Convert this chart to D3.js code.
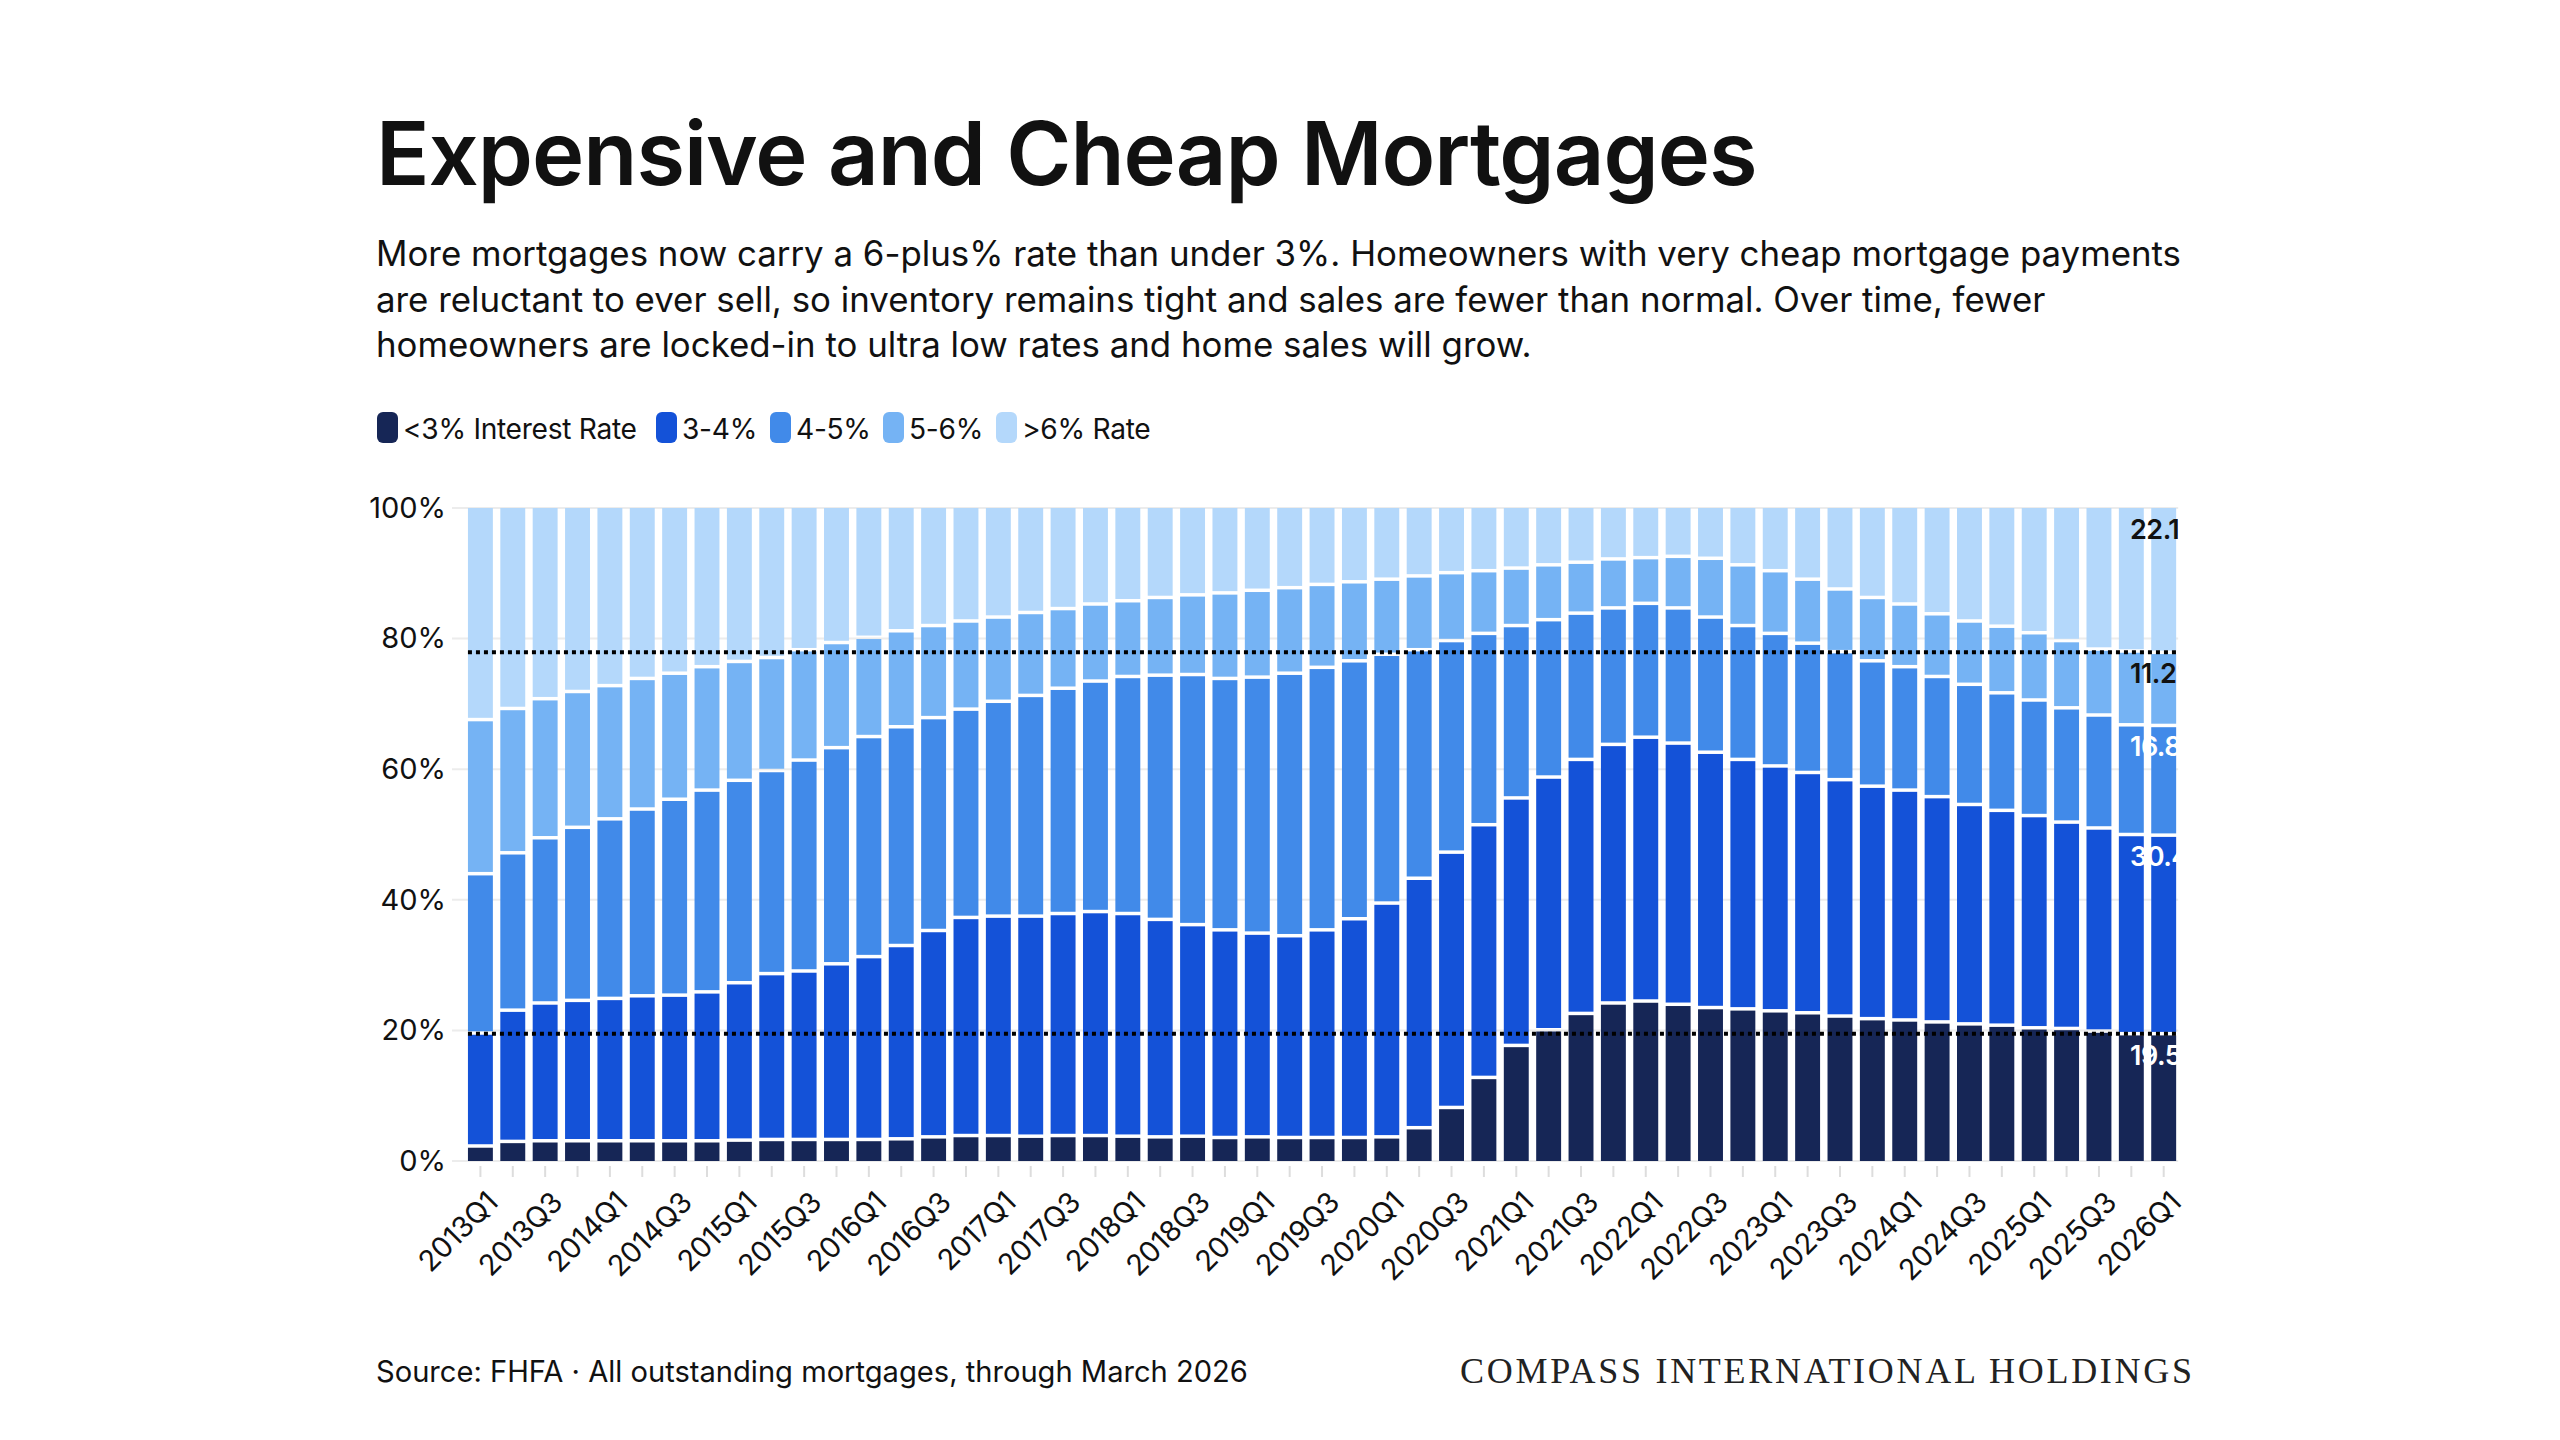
<!DOCTYPE html>
<html>
<head>
<meta charset="utf-8">
<script src="https://cdn.jsdelivr.net/npm/d3@7/dist/d3.min.js"></script>
<style>
  html, body { margin: 0; padding: 0; background: #fff; }
  svg { display: block; }
</style>
</head>
<body>
<svg id="chart" width="2560" height="1440"></svg>
<script>
// ---------------- DATA ----------------
const categories = [
  "2013Q1","2013Q2","2013Q3","2013Q4","2014Q1","2014Q2","2014Q3","2014Q4",
  "2015Q1","2015Q2","2015Q3","2015Q4","2016Q1","2016Q2","2016Q3","2016Q4",
  "2017Q1","2017Q2","2017Q3","2017Q4","2018Q1","2018Q2","2018Q3","2018Q4",
  "2019Q1","2019Q2","2019Q3","2019Q4","2020Q1","2020Q2","2020Q3","2020Q4",
  "2021Q1","2021Q2","2021Q3","2021Q4","2022Q1","2022Q2","2022Q3","2022Q4",
  "2023Q1","2023Q2","2023Q3","2023Q4","2024Q1","2024Q2","2024Q3","2024Q4",
  "2025Q1","2025Q2","2025Q3","2025Q4","2026Q1"
];
const seriesNames = ["<3% Interest Rate", "3-4%", "4-5%", "5-6%", ">6% Rate"];
const lt3 = [2.3,3.0,3.1,3.1,3.1,3.1,3.1,3.1,3.2,3.3,3.3,3.3,3.3,3.4,3.7,3.9,
  3.9,3.8,3.9,3.9,3.8,3.7,3.8,3.6,3.7,3.6,3.6,3.6,3.7,5.1,8.2,12.8,
  17.7,20.1,22.6,24.2,24.5,24.0,23.5,23.3,23.0,22.7,22.2,21.8,21.6,21.3,
  21.0,20.8,20.4,20.3,19.9,19.5,19.5];
const r34 = [17.3,20.1,21.1,21.5,21.8,22.2,22.3,22.8,24.1,25.4,25.8,26.9,28.0,29.6,31.6,33.4,
  33.6,33.7,34.0,34.3,34.1,33.3,32.4,31.8,31.2,30.9,31.8,33.5,35.8,38.2,39.1,38.7,
  37.9,38.7,38.9,39.6,40.4,40.0,39.1,38.2,37.5,36.8,36.2,35.6,35.2,34.5,
  33.6,32.9,32.5,31.6,31.1,30.5,30.4];
const r45 = [24.4,24.1,25.3,26.5,27.5,28.6,30.0,30.9,31.0,31.1,32.3,33.1,33.7,33.5,32.6,31.9,
  32.9,33.8,34.5,35.3,36.3,37.4,38.3,38.5,39.2,40.2,40.2,39.5,38.1,35.0,32.4,29.3,
  26.4,24.1,22.4,20.9,20.5,20.7,20.7,20.5,20.3,19.8,19.6,19.2,18.9,18.4,
  18.4,18.0,17.7,17.5,17.3,16.8,16.8];
const r56 = [23.6,22.1,21.3,20.8,20.4,20.0,19.3,18.9,18.2,17.3,16.9,16.1,15.2,14.7,14.1,13.5,
  12.9,12.7,12.2,11.8,11.6,11.9,12.2,13.1,13.3,13.1,12.7,12.1,11.5,11.3,10.4,9.6,
  8.8,8.4,7.8,7.5,7.0,7.9,9.0,9.3,9.6,9.8,9.6,9.7,9.6,9.6,
  9.7,10.2,10.3,10.3,10.1,11.3,11.2];
const gt6 = [32.4,30.7,29.2,28.1,27.2,26.1,25.3,24.3,23.5,22.9,21.7,20.6,19.8,18.8,18.0,17.3,
  16.7,16.0,15.4,14.7,14.2,13.7,13.3,13.0,12.6,12.2,11.7,11.3,10.9,10.4,9.9,9.6,
  9.2,8.7,8.3,7.8,7.6,7.4,7.7,8.7,9.6,10.9,12.4,13.7,14.7,16.2,
  17.3,18.1,19.1,20.3,21.6,21.9,22.1];
const yTicks = [0, 20, 40, 60, 80, 100];
const colors = ["#162656", "#1452d8", "#418ae9", "#75b3f4", "#b4d8fb"];

// ---------------- TEXT ----------------
const titleText = "Expensive and Cheap Mortgages";
const subtitleLines = [
  "More mortgages now carry a 6-plus% rate than under 3%. Homeowners with very cheap mortgage payments",
  "are reluctant to ever sell, so inventory remains tight and sales are fewer than normal. Over time, fewer",
  "homeowners are locked-in to ultra low rates and home sales will grow."
];
const sourceText = "Source: FHFA \u00b7 All outstanding mortgages, through March 2026";
const brandText = "COMPASS INTERNATIONAL HOLDINGS";

// ---------------- BUILD ----------------
const keys = ["lt3", "r34", "r45", "r56", "gt6"];
const table = categories.map((c, i) => ({
  cat: c, lt3: lt3[i], r34: r34[i], r45: r45[i], r56: r56[i], gt6: gt6[i]
}));
const stacked = d3.stack().keys(keys)(table);

const svg = d3.select("#chart");
const SANS = "Inter, 'Noto Sans', sans-serif";

function fitWidth(sel, target) {
  const w = sel.node().getComputedTextLength();
  const fs = parseFloat(sel.attr("font-size"));
  const nf = fs * target / w;
  sel.attr("font-size", nf);
  return nf;
}

// Title
const title = svg.append("text")
  .attr("x", 376).attr("y", 185)
  .attr("font-family", SANS).attr("font-weight", 600)
  .attr("font-size", 92).attr("fill", "#111")
  .attr("letter-spacing", -1)
  .text(titleText);
fitWidth(title, 1382);

// Subtitle
const subBase = [266, 312, 357];
const sub = svg.append("g");
const subs = subtitleLines.map((t, i) => sub.append("text")
  .attr("x", 376).attr("y", subBase[i])
  .attr("font-family", SANS).attr("font-size", 36).attr("fill", "#111")
  .text(t));
const subFs = fitWidth(subs[0], 1806);
subs.forEach(s => s.attr("font-size", subFs));

// Legend
const legendX = [377, 656, 770, 883, 996];
const legend = svg.append("g");
let legFs = 29;
seriesNames.forEach((name, i) => {
  legend.append("rect")
    .attr("x", legendX[i]).attr("y", 412).attr("width", 21).attr("height", 31)
    .attr("rx", 6).attr("fill", colors[i]);
  const t = legend.append("text")
    .attr("x", legendX[i] + 26).attr("y", 439)
    .attr("font-family", SANS).attr("font-size", legFs).attr("fill", "#111")
    .attr("letter-spacing", -0.3)
    .text(name);
  if (i === 0) legFs = fitWidth(t, 234);
});

// Scales
const x = d3.scaleBand().domain(categories).range([460.5, 2183.6]).padding(0.23);
const y = d3.scaleLinear().domain([0, 100]).range([1161, 508]);
const plotRight = x(categories[categories.length - 1]) + x.bandwidth();

// Gridlines
const grid = svg.append("g");
yTicks.forEach(t => {
  grid.append("line")
    .attr("x1", 452).attr("x2", plotRight + 2)
    .attr("y1", y(t)).attr("y2", y(t))
    .attr("stroke", "#ececec").attr("stroke-width", 2);
});

// Y axis labels
const yAxis = svg.append("g")
  .attr("transform", "translate(446,0)")
  .call(d3.axisLeft(y).tickValues(yTicks).tickFormat(d => d + "%").tickSize(0).tickPadding(0));
yAxis.select(".domain").remove();
yAxis.selectAll("text")
  .attr("font-family", SANS).attr("font-size", 29).attr("fill", "#111");

// Bars
const gap = 1.75;
svg.append("g").selectAll("g")
  .data(stacked).join("g")
  .attr("fill", (d, i) => colors[i])
  .selectAll("rect")
  .data(d => d).join("rect")
  .attr("x", d => x(d.data.cat))
  .attr("width", x.bandwidth())
  .attr("y", d => y(d[1]) + (d[1] < 99.95 ? gap : 0))
  .attr("height", d => Math.max(0, (y(d[0]) - (d[0] > 0.05 ? gap : 0)) - (y(d[1]) + (d[1] < 99.95 ? gap : 0))));

// X ticks
const xt = svg.append("g");
categories.forEach(c => {
  const cx = x(c) + x.bandwidth() / 2;
  xt.append("line")
    .attr("x1", cx).attr("x2", cx).attr("y1", 1166).attr("y2", 1177)
    .attr("stroke", "#dddddd").attr("stroke-width", 2);
});
// X labels (every other quarter)
const xAxis = svg.append("g")
  .attr("transform", "translate(0,1166)")
  .call(d3.axisBottom(x).tickValues(categories.filter((c, i) => i % 2 === 0)).tickSize(0).tickPadding(0));
xAxis.select(".domain").remove();
xAxis.selectAll("text")
  .attr("font-family", SANS).attr("font-size", 29).attr("fill", "#111")
  .attr("letter-spacing", -0.3)
  .attr("text-anchor", "end")
  .attr("transform", "translate(12,31) rotate(-45)")
  .attr("dy", "0.35em").attr("y", 0);

// Dotted reference lines at the latest <3% share and latest >6% threshold
const last = stacked.map(s => s[s.length - 1]);
const refVals = [last[0][1], last[3][1]];
const refs = svg.append("g");
refVals.forEach(v => {
  refs.append("line")
    .attr("x1", x(categories[0])).attr("x2", plotRight)
    .attr("y1", y(v)).attr("y2", y(v))
    .attr("stroke", "#000").attr("stroke-width", 4)
    .attr("stroke-dasharray", "4,4");
});

// Value labels for last quarter (clipped at plot edge)
svg.append("clipPath").attr("id", "plotClip")
  .append("rect").attr("x", 0).attr("y", 0).attr("width", plotRight + 2).attr("height", 1440);
const lbl = svg.append("g").attr("clip-path", "url(#plotClip)");
const lastVals = [lt3, r34, r45, r56, gt6].map(a => a[a.length - 1]);
last.forEach((seg, i) => {
  lbl.append("text")
    .attr("x", 2130).attr("y", y(seg[1]) + 31)
    .attr("font-family", SANS).attr("font-weight", 600).attr("font-size", 27)
    .attr("letter-spacing", -0.5)
    .attr("fill", i >= 3 ? "#111" : "#fff")
    .text(lastVals[i].toFixed(1) + "%");
});

// Footer
const src = svg.append("text")
  .attr("x", 376).attr("y", 1382)
  .attr("font-family", SANS).attr("font-size", 31).attr("fill", "#111")
  .text(sourceText);
fitWidth(src, 872);

const brand = svg.append("text")
  .attr("x", 1460).attr("y", 1383)
  .attr("font-family", "'Liberation Serif', 'DejaVu Serif', serif")
  .attr("font-size", 36).attr("fill", "#222")
  .text(brandText);
const bw = brand.node().getComputedTextLength();
const n = brandText.length;
brand.attr("letter-spacing", (732 - bw) / (n - 1));
</script>
</body>
</html>
